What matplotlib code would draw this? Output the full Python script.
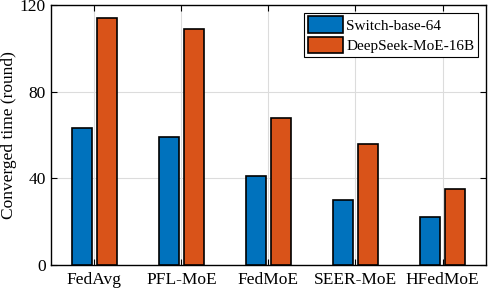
import numpy as np
import matplotlib.pyplot as plt

plt.rcParams['font.family'] = ['Liberation Serif', 'DejaVu Serif']

methods = ['FedAvg', 'PFL-MoE', 'FedMoE', 'SEER-MoE', 'HFedMoE']
switch = [63, 59, 41, 30, 22]
deepseek = [114, 109, 68, 56, 35]

x = np.arange(1, len(methods) + 1)
w = 0.23
off = 0.144

fig = plt.figure(figsize=(4.88, 2.89), dpi=100)
ax = fig.add_axes([0.104, 0.083, 0.892, 0.9])
ax.bar(x - off, switch, w, color='#0072BD', edgecolor='black', linewidth=1.2,
       label='Switch-base-64', zorder=3)
ax.bar(x + off, deepseek, w, color='#D95319', edgecolor='black', linewidth=1.2,
       label='DeepSeek-MoE-16B', zorder=3)

ax.set_xlim(0.5, 5.5)
ax.set_ylim(0, 120)
ax.set_xticks(x)
ax.set_xticklabels(methods)
ax.set_yticks([0, 40, 80, 120])
ax.grid(True, color='#dcdcdc', linewidth=0.8, zorder=0)
ax.tick_params(direction='in', top=True, right=True, labelsize=12.5, length=4, width=0.8)
ax.tick_params(axis='x', pad=5)
for s in ax.spines.values():
    s.set_linewidth(1.0)
ax.set_ylabel('Converged time (round)', fontsize=12.5, labelpad=2)

leg = ax.legend(loc='upper right', fontsize=11, frameon=True, fancybox=False,
                edgecolor='black', framealpha=1, borderpad=0.25, labelspacing=0.25,
                handlelength=2.3, handleheight=1.3, handletextpad=0.25,
                borderaxespad=0.5)
leg.get_frame().set_linewidth(0.8)

fig.savefig('out.png', dpi=100)
